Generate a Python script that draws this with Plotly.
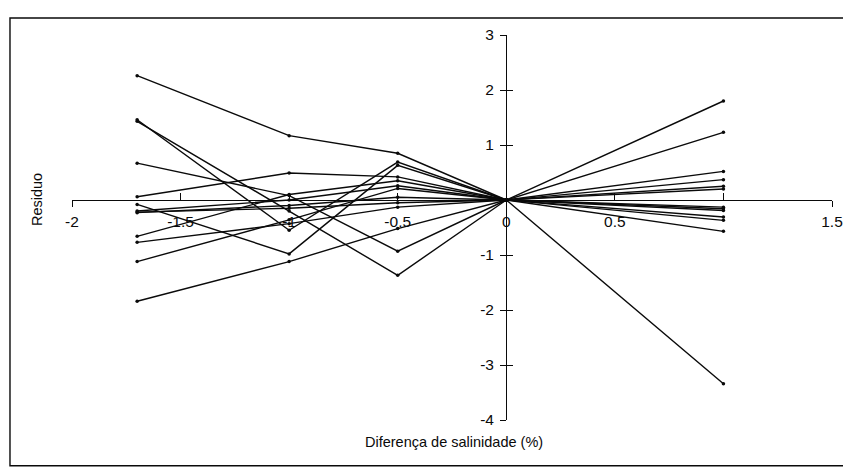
import plotly.graph_objects as go

# Salinity differences (x positions of the measurements)
salinity_diff = [-1.7, -1.0, -0.5, 0.0, 1.0]

# Residual series
s01 = [2.26, 1.17, 0.85, 0.0, -0.57]
s02 = [1.46, -0.55, 0.69, 0.0, 0.25]
s03 = [1.43, -0.20, -1.37, 0.0, 1.80]
s04 = [0.67, 0.08, -0.93, 0.0, 1.23]
s05 = [0.06, 0.49, 0.42, 0.0, -0.16]
s06 = [-0.08, -0.98, 0.63, 0.0, -0.31]
s07 = [-0.22, -0.15, -0.05, 0.0, -0.13]
s08 = [-0.23, -0.10, 0.05, 0.0, 0.37]
s09 = [-0.66, 0.10, 0.35, 0.0, 0.52]
s10 = [-0.77, -0.43, -0.13, 0.0, -0.19]
s11 = [-1.12, -0.36, 0.21, 0.0, 0.20]
s12 = [-1.84, -1.12, -0.52, 0.0, -0.37]
s13 = [-0.20, 0.00, 0.26, 0.0, -3.34]

series = [s01, s02, s03, s04, s05, s06, s07, s08, s09, s10, s11, s12, s13]

x_tickvals = [-2, -1.5, -1, -0.5, 0, 0.5, 1, 1.5]
x_ticktext = ["-2", "-1.5", "-1", "-0.5", "0", "0.5", "", "1.5"]
x_end_ticks = [-2, 1.5]
y_tickvals = [-4, -3, -2, -1, 1, 2, 3]
y_ticktext = ["-4", "-3", "-2", "-1", "1", "2", "3"]

x_title = "Diferença de salinidade (%)"
y_title = "Residuo"

INK = "#0a0a0a"
fig = go.Figure()
for s in series:
    fig.add_trace(go.Scatter(
        x=salinity_diff, y=s, mode="lines+markers",
        line=dict(color=INK, width=1.4),
        marker=dict(color=INK, size=3.5),
        showlegend=False, hoverinfo="skip", cliponaxis=False,
    ))
# invisible trace so the overlay axes (for crossing ticks) are drawn
fig.add_trace(go.Scatter(x=[None], y=[None], xaxis="x2", yaxis="y2",
                         showlegend=False, hoverinfo="skip"))

x_range = [-2, 1.5]
y_range = [-4, 3]
# paper positions of the zero crossings
xaxis_pos = (0 - y_range[0]) / (y_range[1] - y_range[0])
yaxis_pos = (0 - x_range[0]) / (x_range[1] - x_range[0])

font_family = "Liberation Sans, Arial, sans-serif"

# page body has an 8px margin: shift plot area accordingly
fig.update_layout(
    width=851, height=468, autosize=False,
    margin=dict(l=64, r=27, t=26.5, b=55.5),
    paper_bgcolor="white", plot_bgcolor="rgba(0,0,0,0)",
    font=dict(family=font_family, size=14, color=INK),
    xaxis=dict(
        range=x_range, domain=[0, 1], anchor="free", position=xaxis_pos,
        automargin=False,
        showline=True, linecolor=INK, linewidth=1.4,
        ticks="inside", ticklen=7, tickwidth=1.4, tickcolor=INK,
        tickvals=x_tickvals, ticktext=x_ticktext,
        ticklabelstandoff=7,
        showgrid=False, zeroline=False,
        tickfont=dict(size=15.5),
    ),
    yaxis=dict(
        range=y_range, domain=[0, 1], anchor="free", position=yaxis_pos,
        automargin=False,
        showline=True, linecolor=INK, linewidth=1.4,
        ticks="inside", ticklen=6, tickwidth=1.4, tickcolor=INK,
        tickvals=y_tickvals, ticktext=y_ticktext,
        ticklabelstandoff=9,
        showgrid=False, zeroline=False,
        tickfont=dict(size=15.5),
    ),
    xaxis2=dict(
        range=x_range, domain=[0, 1], anchor="free", position=xaxis_pos,
        overlaying="x", automargin=False, showline=False,
        ticks="outside", ticklen=6, tickwidth=1.4, tickcolor=INK,
        tickvals=x_end_ticks, showticklabels=False,
        showgrid=False, zeroline=False,
    ),
    yaxis2=dict(
        range=y_range, domain=[0, 1], anchor="free", position=yaxis_pos,
        overlaying="y", automargin=False, showline=False,
        ticks="outside", ticklen=6, tickwidth=1.4, tickcolor=INK,
        tickvals=y_tickvals, showticklabels=False,
        showgrid=False, zeroline=False,
    ),
    annotations=[
        dict(text=x_title, xref="paper", yref="paper", x=0.502, y=-0.03,
             xanchor="center", yanchor="top", showarrow=False,
             font=dict(size=14.5, family=font_family)),
        dict(text=y_title, xref="paper", yref="paper", x=-0.046, y=xaxis_pos,
             xanchor="center", yanchor="middle", showarrow=False, textangle=-90,
             font=dict(size=14.5, family=font_family)),
    ],
    shapes=[
        dict(type="rect", xref="paper", yref="paper",
             x0=-0.0816, x1=1.021, y0=-0.119, y1=1.044,
             line=dict(color=INK, width=1.4)),
    ],
)

fig.write_html("out.html")
